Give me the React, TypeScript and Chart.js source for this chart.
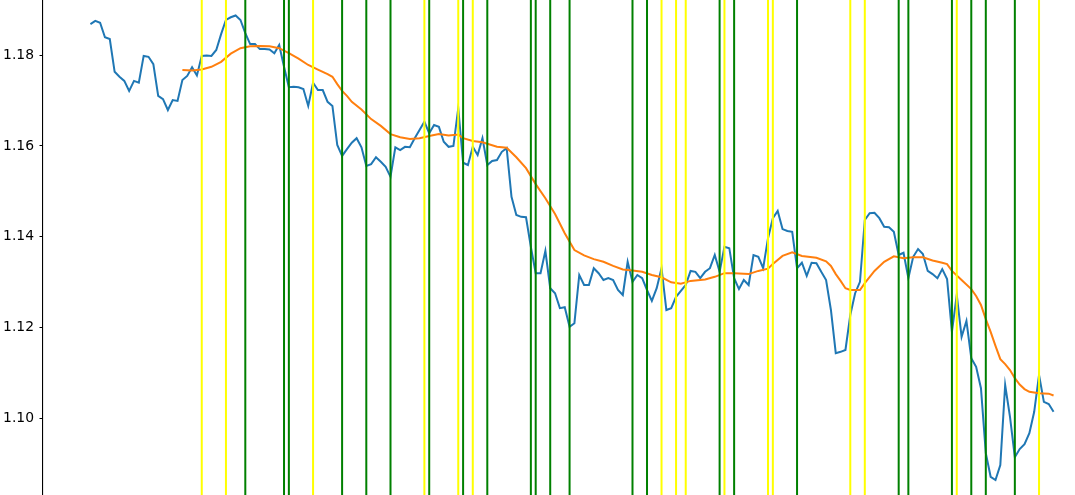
import React, { useEffect, useRef } from "react";
import { Chart, registerables } from "chart.js";

Chart.register(...registerables);

// Closing prices (index 0..199)
const blueValues: number[] = [
  1.1868, 1.1875, 1.1871, 1.1839, 1.1835, 1.1763, 1.1752, 1.1743, 1.1721, 1.1743,
  1.1739, 1.1798, 1.1796, 1.1780, 1.1710, 1.1703, 1.1679, 1.1701, 1.1699, 1.1745,
  1.1754, 1.1773, 1.1755, 1.1798, 1.1799, 1.1798, 1.1811, 1.1846, 1.1877, 1.1883,
  1.1887, 1.1877, 1.1848, 1.1824, 1.1824, 1.1813, 1.1813, 1.1812, 1.1804, 1.1822,
  1.1774, 1.1729, 1.1730, 1.1729, 1.1725, 1.1688, 1.1739, 1.1723, 1.1723, 1.1697,
  1.1688, 1.1602, 1.1578, 1.1593, 1.1607, 1.1617, 1.1597, 1.1556, 1.1560, 1.1575,
  1.1565, 1.1554, 1.1532, 1.1597, 1.1591, 1.1598, 1.1597, 1.1617, 1.1635, 1.1653,
  1.1628, 1.1646, 1.1642, 1.1609, 1.1598, 1.1600, 1.1683, 1.1563, 1.1558, 1.1598,
  1.1580, 1.1617, 1.1558, 1.1567, 1.1569, 1.1587, 1.1595, 1.1488, 1.1448, 1.1444,
  1.1443, 1.1378, 1.1320, 1.1320, 1.1369, 1.1287, 1.1276, 1.1243, 1.1245, 1.1202,
  1.1210, 1.1316, 1.1294, 1.1294, 1.1331, 1.1320, 1.1305, 1.1309, 1.1305, 1.1283,
  1.1272, 1.1345, 1.1301, 1.1316, 1.1309, 1.1283, 1.1259, 1.1287, 1.1331, 1.1239,
  1.1243, 1.1268, 1.1281, 1.1294, 1.1325, 1.1323, 1.1309, 1.1323, 1.1331, 1.1360,
  1.1323, 1.1378, 1.1375, 1.1309, 1.1285, 1.1305, 1.1294, 1.1360, 1.1356, 1.1331,
  1.1397, 1.1441, 1.1457, 1.1417, 1.1413, 1.1411, 1.1331, 1.1343, 1.1314, 1.1343,
  1.1342, 1.1323, 1.1305, 1.1239, 1.1144, 1.1147, 1.1151, 1.1228, 1.1276, 1.1301,
  1.1437, 1.1452, 1.1453, 1.1441, 1.1422, 1.1421, 1.1411, 1.1360, 1.1365, 1.1309,
  1.1356, 1.1373, 1.1362, 1.1325, 1.1318, 1.1309, 1.1329, 1.1307, 1.1191, 1.1272,
  1.1180, 1.1215, 1.1133, 1.1114, 1.1067, 1.0924, 1.0872, 1.0865, 1.0898, 1.1074,
  1.1004, 1.0915, 1.0933, 1.0944, 1.0968, 1.1015, 1.1096, 1.1037, 1.1032, 1.1015,
];

// Moving average, read at these indices
const maIndex: number[] = [
  19, 21, 23, 25, 27, 29, 31, 33, 35, 37, 39, 41, 43, 45, 47, 49, 50, 51, 52, 53,
  54, 56, 58, 60, 62, 64, 66, 68, 70, 72, 74, 76, 77, 79, 81, 84, 86, 88, 90, 92,
  94, 96, 98, 100, 102, 104, 106, 108, 110, 112, 114, 116, 118, 120, 122, 124, 127, 129, 131, 133,
  136, 138, 140, 141, 143, 145, 147, 150, 152, 153, 154, 155, 156, 157, 159, 160, 162, 164, 166, 168,
  170, 172, 174, 176, 177, 178, 180, 182, 183, 184, 185, 186, 187, 188, 189, 190, 191, 192, 193, 194,
  196, 198, 199,
];
const maValues: number[] = [
  1.1767, 1.1766, 1.1768, 1.1774, 1.1785, 1.1803, 1.1815, 1.1819, 1.1820, 1.1819,
  1.1815, 1.1804, 1.1792, 1.1778, 1.1768, 1.1758, 1.1752, 1.1736, 1.1721, 1.1710,
  1.1697, 1.1680, 1.1659, 1.1644, 1.1626, 1.1619, 1.1615, 1.1617, 1.1622, 1.1626,
  1.1623, 1.1625, 1.1617, 1.1611, 1.1608, 1.1598, 1.1596, 1.1575, 1.1551, 1.1516,
  1.1485, 1.1450, 1.1408, 1.1371, 1.1359, 1.1351, 1.1345, 1.1336, 1.1328, 1.1326,
  1.1323, 1.1316, 1.1311, 1.1300, 1.1297, 1.1303, 1.1306, 1.1312, 1.1320, 1.1320,
  1.1318, 1.1325, 1.1330, 1.1340, 1.1358, 1.1366, 1.1358, 1.1354, 1.1346, 1.1336,
  1.1318, 1.1303, 1.1287, 1.1283, 1.1283, 1.1298, 1.1325, 1.1345, 1.1357, 1.1353,
  1.1355, 1.1355, 1.1348, 1.1343, 1.1340, 1.1325, 1.1305, 1.1285, 1.1270, 1.1250,
  1.1219, 1.1191, 1.1160, 1.1131, 1.1120, 1.1107, 1.1089, 1.1075, 1.1065, 1.1059,
  1.1056, 1.1055, 1.1051,
];

// Signal markers (indices)
const greenIdx: number[] = [
  32, 40, 41, 52, 57, 62, 70, 77, 82, 91, 92, 95, 99, 112, 115, 130, 133, 146,
  167, 169, 178, 182, 185, 191,
];
const yellowIdx: number[] = [
  23, 28, 46, 69, 76, 79, 118, 121, 123, 131, 140, 141, 157, 160, 179, 196,
];

const yTicks: number[] = [1.10, 1.12, 1.14, 1.16, 1.18];

const Y_MIN = 1.0832;
const Y_MAX = 1.1921;
const X_MIN = -9.8;
const X_MAX = 203.43;

function vlines(idx: number[]) {
  const out: { x: number; y: number | null }[] = [];
  idx.forEach((i) => {
    out.push({ x: i, y: Y_MIN - 0.05 });
    out.push({ x: i, y: Y_MAX + 0.05 });
    out.push({ x: i, y: null });
  });
  return out;
}

export default function App() {
  const ref = useRef<HTMLCanvasElement | null>(null);

  useEffect(() => {
    if (!ref.current) return;
    const chart = new Chart(ref.current, {
      type: "line",
      data: {
        datasets: [
          {
            label: "close",
            data: blueValues.map((v, i) => ({ x: i, y: v })),
            borderColor: "#1f77b4",
            borderWidth: 2,
            pointRadius: 0,
            tension: 0,
            fill: false,
            order: 4,
          },
          {
            label: "ma",
            data: maIndex.map((i, k) => ({ x: i, y: maValues[k] })),
            borderColor: "#ff7f0e",
            borderWidth: 2,
            pointRadius: 0,
            tension: 0,
            fill: false,
            order: 3,
          },
          {
            label: "green",
            data: vlines(greenIdx) as any,
            borderColor: "#008000",
            borderWidth: 2,
            pointRadius: 0,
            spanGaps: false,
            fill: false,
            order: 2,
          },
          {
            label: "yellow",
            data: vlines(yellowIdx) as any,
            borderColor: "#ffff00",
            borderWidth: 2,
            pointRadius: 0,
            spanGaps: false,
            fill: false,
            order: 1,
          },
        ],
      },
      options: {
        animation: false,
        responsive: true,
        maintainAspectRatio: false,
        layout: { padding: 0 },
        plugins: {
          legend: { display: false },
          tooltip: { enabled: false },
        },
        scales: {
          x: {
            type: "linear",
            display: false,
            min: X_MIN,
            max: X_MAX,
          },
          y: {
            type: "linear",
            position: "left",
            min: Y_MIN,
            max: Y_MAX,
            afterBuildTicks: (axis: any) => {
              axis.ticks = yTicks.map((v) => ({ value: v }));
            },
            afterFit: (axis: any) => {
              axis.width = 43;
              axis.paddingTop = 0;
              axis.paddingBottom = 0;
            },
            ticks: {
              color: "#000000",
              font: { family: "DejaVu Sans", size: 13.9 },
              padding: 5.5,
              callback: (v: any) => Number(v).toFixed(2),
            },
            grid: {
              drawOnChartArea: false,
              drawTicks: true,
              tickLength: 3.5,
              color: "#000000",
              lineWidth: 1,
            },
            border: { display: true, color: "#000000", width: 1.1 },
          },
        },
      },
    });
    return () => chart.destroy();
  }, []);

  return (
    <div
      style={{
        position: "fixed",
        left: 0,
        top: 0,
        width: 1075,
        height: 495,
        background: "#ffffff",
      }}
    >
      <canvas ref={ref} />
    </div>
  );
}
